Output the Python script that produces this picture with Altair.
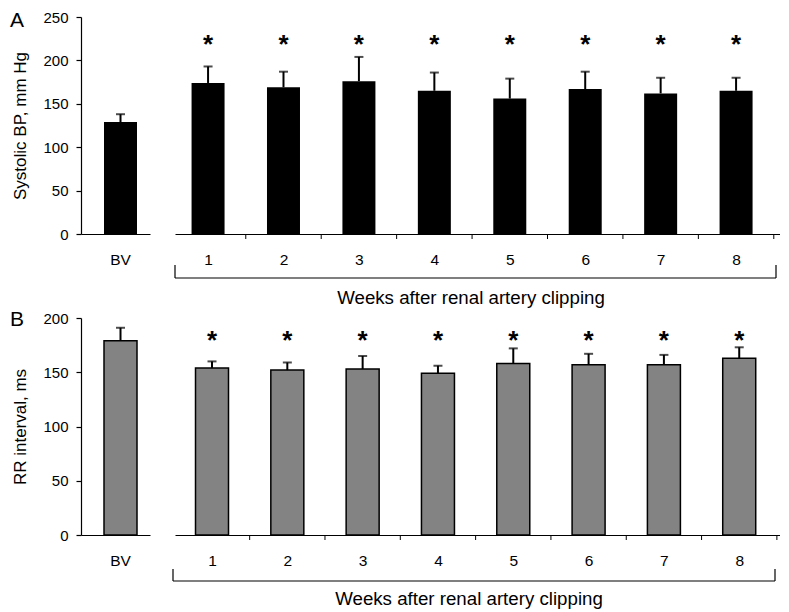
import altair as alt
import pandas as pd

# ---------------- data ----------------
weeks = [1, 2, 3, 4, 5, 6, 7, 8]
bv_label = ["BV"]

sbp_bv = [129]
sbp_bv_sem = [9]
sbp_weeks = [174, 169, 176, 165, 156, 167, 162, 165]
sbp_weeks_sem = [19, 18, 28, 21, 23, 20, 18, 15]
sbp_sig = ["*", "*", "*", "*", "*", "*", "*", "*"]

rr_bv = [179]
rr_bv_sem = [12]
rr_weeks = [154, 152, 153, 149, 158, 157, 157, 163]
rr_weeks_sem = [6, 7, 12, 7, 14, 10, 9, 10]
rr_sig = ["*", "*", "*", "*", "*", "*", "*", "*"]

FONT = "Liberation Sans"
H = 217
BV_W = 69
WK_W = 605


def bv_panel(mean, sem, ymax, fill, stroke, title, letter, letter_y):
    df = pd.DataFrame({
        "cat": bv_label,
        "mean": mean,
        "top": [m + s for m, s in zip(mean, sem)],
    })
    yscale = alt.Scale(domain=[0, ymax], nice=False, zero=True)
    yaxis = alt.Axis(values=list(range(0, ymax + 1, 50)), title=title,
                     tickSize=5, labelPadding=8, titlePadding=13,
                     titleFontSize=17, labelFontSize=15, grid=False)
    xenc = alt.X("cat:N",
                 scale=alt.Scale(paddingInner=0, paddingOuter=0.5, align=0.645),
                 axis=alt.Axis(title=None, labelAngle=0, ticks=False, tickSize=0,
                               labelPadding=18, labelFontSize=15.5, grid=False))
    base = alt.Chart(df).encode(x=xenc)
    bars = base.mark_bar(size=33, fill=fill, stroke=stroke,
                         strokeWidth=1.5 if stroke != fill else 0).encode(
        y=alt.Y("mean:Q", scale=yscale, axis=yaxis))
    err = base.mark_rule(color="black", strokeWidth=2).encode(
        y=alt.Y("mean:Q", scale=yscale, axis=yaxis), y2="top:Q")
    cap = base.mark_tick(orient="horizontal", size=9, thickness=2, color="black").encode(
        y=alt.Y("top:Q", scale=yscale, axis=yaxis))
    lab = alt.Chart(alt.Data(values=[{}])).mark_text(
        text=letter, font=FONT, fontSize=21, align="left", baseline="alphabetic",
        color="black").encode(x=alt.value(-71), y=alt.value(letter_y))
    return alt.layer(bars, err, cap, lab).properties(width=BV_W, height=H)


def weeks_panel(mean, sem, sig, ymax, star, fill, stroke, dom,
                br_x0, br_x1, br_top, br_bot, title_x, title_y):
    df = pd.DataFrame({
        "week": weeks,
        "mean": mean,
        "top": [m + s for m, s in zip(mean, sem)],
        "sig": sig,
        "star": [star] * len(weeks),
        "tickpos": [w + 0.5 for w in weeks],
    })
    yscale = alt.Scale(domain=[0, ymax], nice=False, zero=True)
    xscale = alt.Scale(domain=dom, nice=False, zero=False)
    xaxis = alt.Axis(values=weeks, format="d", ticks=False, tickSize=0,
                     labelPadding=18, labelFontSize=15.5, labelFlush=False,
                     title=None, grid=False)
    base = alt.Chart(df)
    bars = base.mark_bar(size=33, fill=fill, stroke=stroke,
                         strokeWidth=1.5 if stroke != fill else 0).encode(
        x=alt.X("week:Q", scale=xscale, axis=xaxis),
        y=alt.Y("mean:Q", scale=yscale, axis=None))
    err = base.mark_rule(color="black", strokeWidth=2).encode(
        x=alt.X("week:Q", scale=xscale, axis=xaxis),
        y=alt.Y("mean:Q", scale=yscale, axis=None), y2="top:Q")
    cap = base.mark_tick(orient="horizontal", size=9, thickness=2, color="black").encode(
        x=alt.X("week:Q", scale=xscale, axis=xaxis),
        y=alt.Y("top:Q", scale=yscale, axis=None))
    stars = base.mark_text(font=FONT, fontSize=26, fontWeight="bold",
                           baseline="alphabetic", color="black").encode(
        x=alt.X("week:Q", scale=xscale, axis=xaxis),
        y=alt.Y("star:Q", scale=yscale, axis=None),
        text="sig:N")
    ticks = base.mark_rule(color="black", strokeWidth=1).encode(
        x=alt.X("tickpos:Q", scale=xscale, axis=xaxis),
        y=alt.value(H), y2=alt.value(H + 5))
    one = alt.Data(values=[{}])
    br_h = alt.Chart(one).mark_rule(color="black", strokeWidth=1.2).encode(
        x=alt.value(br_x0), x2=alt.value(br_x1), y=alt.value(br_bot))
    br_l = alt.Chart(one).mark_rule(color="black", strokeWidth=1.2).encode(
        x=alt.value(br_x0), y=alt.value(br_top), y2=alt.value(br_bot))
    br_r = alt.Chart(one).mark_rule(color="black", strokeWidth=1.2).encode(
        x=alt.value(br_x1), y=alt.value(br_top), y2=alt.value(br_bot))
    ttl = alt.Chart(one).mark_text(
        text="Weeks after renal artery clipping", font=FONT, fontSize=18.7,
        align="center", baseline="middle", color="black").encode(
        x=alt.value(title_x), y=alt.value(title_y))
    return alt.layer(bars, err, cap, stars, ticks, br_h, br_l, br_r, ttl).properties(
        width=WK_W, height=H)


bvA = bv_panel(sbp_bv, sbp_bv_sem, 250, "black", "black",
               "Systolic BP, mm Hg", "A", 10)
wkA = weeks_panel(sbp_weeks, sbp_weeks_sem, sbp_sig, 250, 208, "black", "black",
                  [0.628, 8.516], 0, 601, H + 31, H + 44, 296, H + 64)

bvB = bv_panel(rr_bv, rr_bv_sem, 200, "#838383", "black",
               "RR interval, ms", "B", 8)
wkB = weeks_panel(rr_weeks, rr_weeks_sem, rr_sig, 200, 171.5, "#838383", "black",
                  [0.575, 8.475], -2, 600, H + 34, H + 46, 294, H + 64)

chart = alt.concat(bvA, wkA, bvB, wkB, columns=2,
                   spacing={"row": 84, "column": 25}, bounds="flush",
                   padding={"left": 2, "top": 2, "right": 0, "bottom": 0}).configure_view(
    stroke=None
).configure_axis(
    domainColor="black", tickColor="black", labelColor="black", titleColor="black",
    labelFont=FONT, titleFont=FONT, titleFontWeight="normal", domainWidth=1.2,
    tickWidth=1.2
).configure_text(font=FONT)

chart.save("out.html", embed_options={"renderer": "svg", "actions": False})
